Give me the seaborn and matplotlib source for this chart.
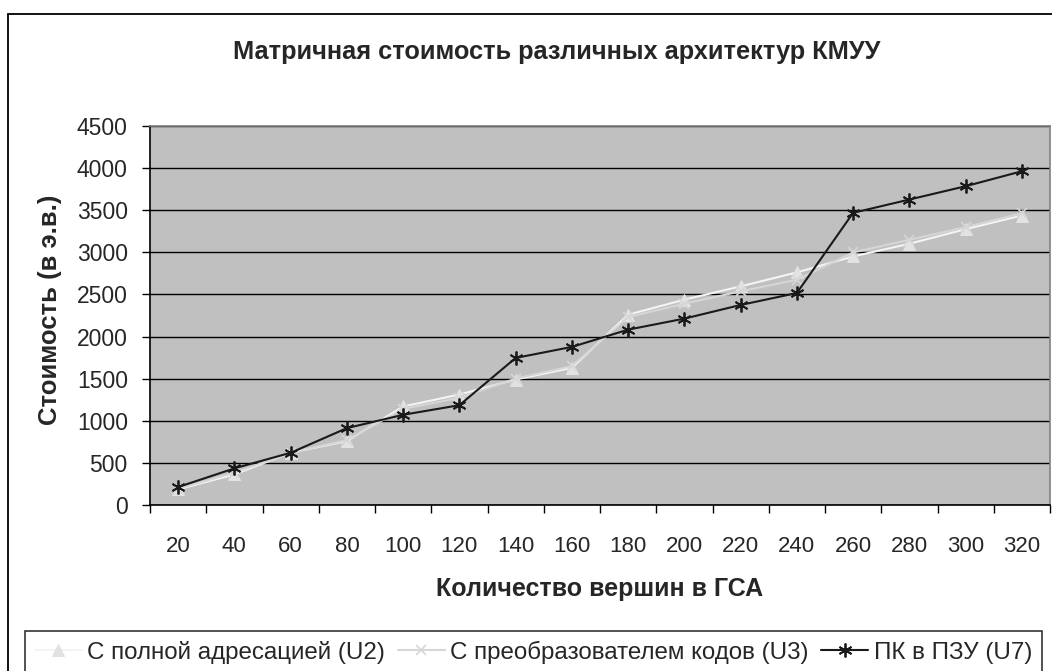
"""Matrix cost of CMCU architectures (line chart)."""

import matplotlib

matplotlib.use("Agg")

import matplotlib.pyplot as plt
import numpy as np
import pandas as pd
import seaborn as sns
from matplotlib.patches import Rectangle
from matplotlib.ticker import FixedLocator

vertices = [20, 40, 60, 80, 100, 120, 140, 160, 180, 200, 220, 240, 260, 280, 300, 320]
cost_u2 = [186, 363, 620, 759, 1170, 1312, 1490, 1628, 2260, 2438, 2596, 2762, 2951, 3102, 3275, 3437]
cost_u3 = [194, 383, 620, 770, 1142, 1272, 1501, 1648, 2232, 2390, 2537, 2675, 2999, 3149, 3299, 3465]
cost_u7 = [213, 435, 620, 913, 1071, 1185, 1746, 1877, 2082, 2213, 2375, 2517, 3469, 3627, 3785, 3963]

series_names = [
    "С полной адресацией (U2)",
    "С преобразователем кодов (U3)",
    "ПК в ПЗУ (U7)",
]

sns.set_theme(style="white")
plt.rcParams["font.family"] = ["Liberation Sans", "DejaVu Sans"]

W, H = 1052, 671
fig = plt.figure(figsize=(W / 100, H / 100), dpi=100)
fig.patch.set_facecolor("white")

# outer chart border (runs off the right / bottom edge like the original)
fig.patches.append(
    Rectangle((8 / W, -0.05), 1.1, 1 - 14 / H + 0.05, transform=fig.transFigure,
              fill=False, edgecolor="black", linewidth=1.3, zorder=0)
)

left, right, top, bottom = 150, 1050, 126, 505
ax = fig.add_axes([left / W, 1 - bottom / H, (right - left) / W, (bottom - top) / H])
ax.set_facecolor("#c0c0c0")

pos = np.arange(len(vertices))
df = pd.DataFrame({"pos": pos, "u2": cost_u2, "u3": cost_u3, "u7": cost_u7})

styles = [
    ("u2", dict(color="#f4f4f4", marker="^", markersize=8, markerfacecolor="#e2e2e2",
                markeredgecolor="#e2e2e2")),
    ("u3", dict(color="#d6d6d6", marker="x", markersize=7, markeredgewidth=1.2,
                markeredgecolor="#d6d6d6")),
    ("u7", dict(color="#1a1a1a", marker=(6, 2, 0), markersize=10, markeredgewidth=1.3,
                markeredgecolor="#1a1a1a")),
]
for (col, kw), name in zip(styles, series_names):
    sns.lineplot(data=df, x="pos", y=col, ax=ax, label=name, linewidth=1.5, **kw)

ax.set_xlim(-0.5, len(vertices) - 0.5)
ax.set_ylim(0, 4500)
ax.set_yticks(np.arange(0, 4501, 500))
ax.set_xticks(pos)
ax.set_xticklabels([str(v) for v in vertices])
ax.xaxis.set_minor_locator(FixedLocator(np.arange(-0.5, len(vertices), 1.0)))

ax.grid(axis="y", color="black", linewidth=1.0)
ax.set_axisbelow(True)
ax.tick_params(axis="x", which="major", length=0, pad=22, labelsize=16)
ax.tick_params(axis="x", which="minor", bottom=True, length=6, width=1, color="black")
ax.tick_params(axis="y", left=True, length=6, width=1, color="black", pad=10, labelsize=16.5)

for side in ("top", "right"):
    ax.spines[side].set_color("#808080")
    ax.spines[side].set_linewidth(1.2)
for side in ("left", "bottom"):
    ax.spines[side].set_color("black")
    ax.spines[side].set_linewidth(1.2)

ax.set_xlabel("Количество вершин в ГСА", fontsize=18, fontweight="bold", labelpad=15)
ax.set_ylabel("Стоимость (в э.в.)", fontsize=18.5, fontweight="bold")
ax.yaxis.set_label_coords(-0.098, 0.515)
fig.text(557 / W, 1 - 52 / H, "Матричная стоимость различных архитектур КМУУ",
         ha="center", va="center", fontsize=18.3, fontweight="bold")

handles, labels = ax.get_legend_handles_labels()
ax.get_legend().remove()
leg = fig.legend(handles, labels, loc="upper left", ncol=3,
                 bbox_to_anchor=(25 / W, 1 - 631 / H), fontsize=17.4,
                 frameon=True, fancybox=False, handlelength=1.95,
                 handletextpad=0.22, columnspacing=0.52, borderpad=0.4,
                 borderaxespad=0)
leg.get_frame().set_edgecolor("black")
leg.get_frame().set_linewidth(1.2)

fig.savefig("out.png", dpi=100)
